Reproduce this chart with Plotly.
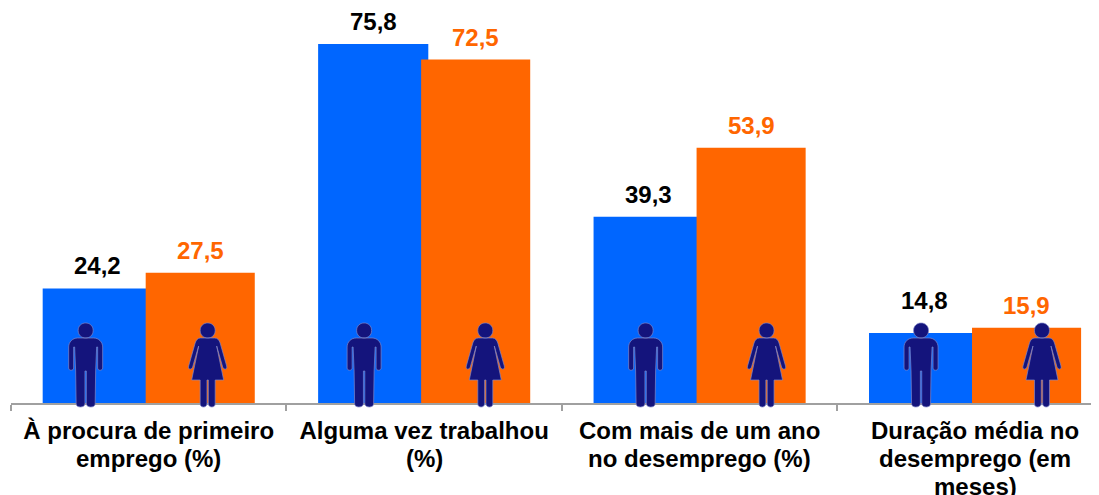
import plotly.graph_objects as go

categories = ["À procura de primeiro emprego (%)", "Alguma vez trabalhou (%)",
              "Com mais de um ano no desemprego (%)", "Duração média no desemprego (em meses)"]
label_lines = [["À procura de primeiro", "emprego (%)"],
               ["Alguma vez trabalhou", "(%)"],
               ["Com mais de um ano", "no desemprego (%)"],
               ["Duração média no", "desemprego (em", "meses)"]]
homens = [24.2, 75.8, 39.3, 14.8]
mulheres = [27.5, 72.5, 53.9, 15.9]
icon_h = [-0.229, -0.218, -0.196, -0.196]
icon_m = [0.214, 0.222, 0.243, 0.243]
lift_h = [7, 7, 7, 17]
lift_m = [7, 7, 7, 7]

BLUE = "#0066ff"
ORANGE = "#ff6600"
NAVY = "#14147c"
AXIS = "#a0a0a0"
FONT = "Liberation Sans"
W_H, OFF_H, W_M, OFF_M = 0.4, -0.385, 0.396, -0.011


def head():
    return "M-7.5,73.5 C-7.5,83.5 7.5,83.5 7.5,73.5 C7.5,63.5 -7.5,63.5 -7.5,73.5 Z"


def man():
    return ("M-8,66 L8,66 C13,66 17,62 17,57 L17,36 C17,33 12,33 12,36 L12,57 L11,57 L10,33 L9.5,0 "
            "C9.5,-4 1,-4 0.7,0 L0.7,33 L-0.7,33 L-0.7,0 C-1,-4 -9.5,-4 -9.5,0 L-10,33 L-11,57 L-12,57 "
            "L-12,36 C-12,33 -17,33 -17,36 L-17,57 C-17,62 -13,66 -8,66 Z " + head())


def woman():
    return ("M-7,66 L7,66 C10,66 11.5,64 12.5,61 L19,38 C20,34 16,34 15,37 L9,58 L16,24 L7.5,24 L7.5,0 "
            "C7.5,-4 1,-4 0.7,0 L0.7,24 L-0.7,24 L-0.7,0 C-1,-4 -7.5,-4 -7.5,0 L-7.5,24 L-16,24 L-9,58 "
            "L-15,37 C-16,34 -20,34 -19,38 L-12.5,61 C-11.5,64 -10,66 -7,66 Z " + head())


tick_font = dict(family=FONT, size=24, color="black", weight="bold")
shapes = []
annotations = []
for i in range(len(categories)):
    for off, path in ((icon_h[i], man()), (icon_m[i], woman())):
        shapes.append(dict(type="path", xref="x", yref="paper", xsizemode="pixel", ysizemode="pixel",
                           xanchor=i + off, yanchor=-0.0025, path=path, fillcolor=NAVY,
                           line=dict(color="#7f86c8", width=0.7), layer="above"))
    for val, off, wid, col, lift in ((homens[i], OFF_H, W_H, "black", lift_h[i]),
                                     (mulheres[i], OFF_M, W_M, ORANGE, lift_m[i])):
        annotations.append(dict(x=i + off + wid / 2, y=val, xref="x", yref="y", yanchor="bottom",
                                yshift=lift, showarrow=False, text=f"{val:.1f}".replace(".", ","),
                                font=dict(family=FONT, size=24, color=col, weight="bold")))
    for n, line in enumerate(label_lines[i][1:]):
        annotations.append(dict(x=i, y=0, xref="x", yref="paper", yanchor="middle",
                                yshift=-55 - 28 * n, showarrow=False, text=line, font=tick_font))

fig = go.Figure()
fig.add_bar(x=categories, y=homens, marker=dict(color=BLUE, line_width=0), width=W_H, offset=OFF_H)
fig.add_bar(x=categories, y=mulheres, marker=dict(color=ORANGE, line_width=0), width=W_M, offset=OFF_M)

fig.update_layout(
    width=1091, height=487, barmode="overlay", showlegend=False, separators=",.",
    margin=dict(l=3, r=0, t=0, b=92, autoexpand=False), paper_bgcolor="white", plot_bgcolor="white",
    shapes=shapes, annotations=annotations, hovermode=False,
    xaxis=dict(type="category", range=[-0.5, 3.45], tickson="boundaries", ticks="outside", ticklen=6,
               tickcolor=AXIS, tickwidth=2, linecolor=AXIS, linewidth=2, showline=True, showgrid=False,
               tickangle=0, ticklabelstandoff=5, tickmode="array",
               tickvals=categories, ticktext=[lines[0] for lines in label_lines], tickfont=tick_font),
    yaxis=dict(range=[0, 83.4], visible=False),
)
fig.write_html("out.html")
